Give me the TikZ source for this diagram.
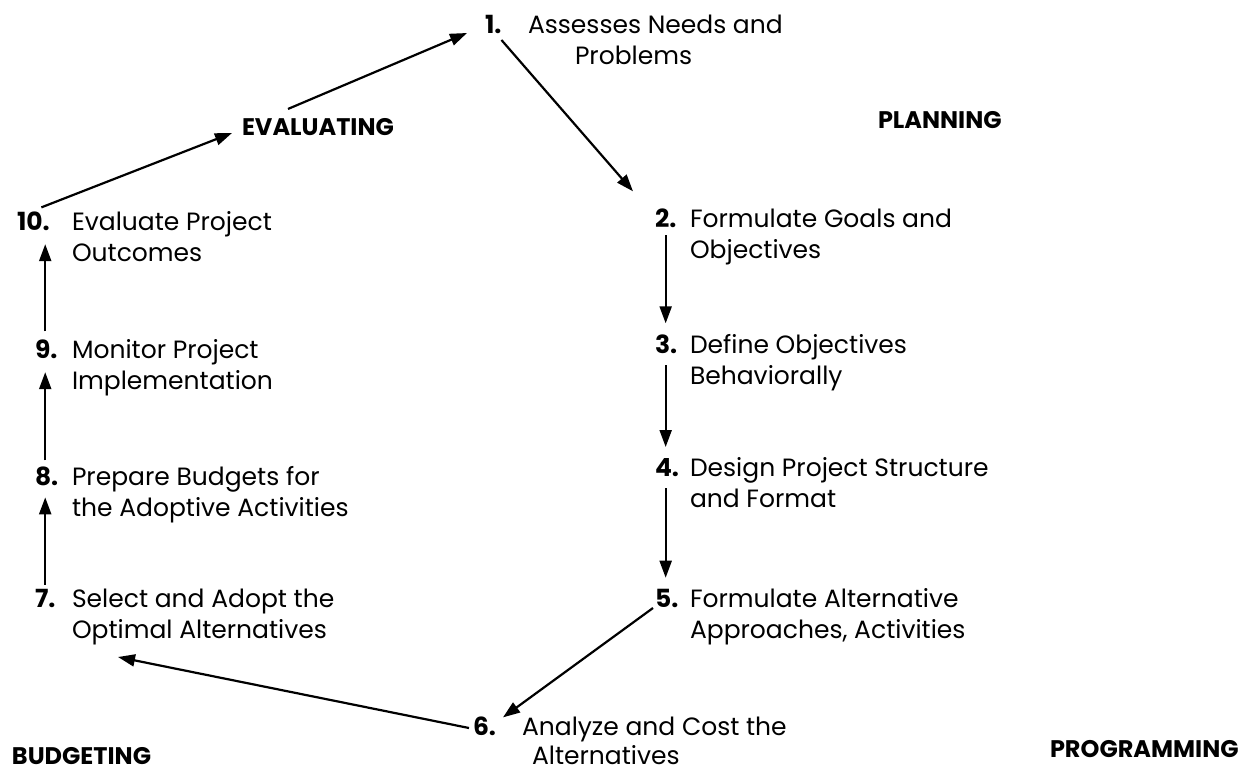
\documentclass[tikz,border=0pt]{standalone}
\usepackage{fontspec}
\setmainfont{Poppins}
\usetikzlibrary{arrows.meta,calc}
% two-line step text; baseline = first line, optional indent of the second line
\newcommand\steplines[3][0pt]{\vtop{\hbox{#2}\hbox{\hskip#1#3}}}

\begin{document}
\begin{tikzpicture}[x=1pt,y=-1pt,
  every node/.style={inner sep=0pt,outer sep=0pt},
  num/.style={anchor=base west,font=\fontsize{25}{31.5}\selectfont\bfseries},
  txt/.style={anchor=base west,font=\fontsize{25}{31.5}\selectfont},
  phase/.style={anchor=base west,font=\fontsize{24}{28}\selectfont\bfseries},
  flow/.style={line width=2.2pt,-{Triangle[length=17pt,width=12pt]}},
]
\useasboundingbox (0,0) rectangle (1253,771);

% phase labels
\node[phase] (ev)   at (242,135) {EVALUATING};
\node[phase] (plan) at (878,128) {PLANNING};
\node[phase] (bud)  at (12,764)  {BUDGETING};
\node[phase] (prog) at (1050,757) {PROGRAMMING};

% steps: number and text
\node[num] (n1) at (485,33) {1.};
\node[txt] (t1) at (528,33) {\steplines[47pt]{Assesses Needs and}{Problems}};
\node[num] (n2) at (655,227) {2.};
\node[txt] (t2) at (690,227) {\steplines{Formulate Goals and}{Objectives}};
\node[num] (n3) at (655,353) {3.};
\node[txt] (t3) at (690,353) {\steplines{Define Objectives}{Behaviorally}};
\node[num] (n4) at (655,476) {4.};
\node[txt] (t4) at (690,476) {\steplines{Design Project Structure}{and Format}};
\node[num] (n5) at (655,607) {5.};
\node[txt] (t5) at (690,607) {\steplines{Formulate Alternative}{Approaches, Activities}};
\node[num] (n6) at (473,735) {6.};
\node[txt,font=\fontsize{25}{29}\selectfont] (t6) at (522,735)
  {\steplines[10pt]{Analyze and Cost the}{Alternatives}};
\node[num] (n7) at (35,607) {7.};
\node[txt] (t7) at (72,607) {\steplines{Select and Adopt the}{Optimal Alternatives}};
\node[num] (n8) at (35,485) {8.};
\node[txt] (t8) at (72,485) {\steplines{Prepare Budgets for}{the Adoptive Activities}};
\node[num] (n9) at (35,358) {9.};
\node[txt] (t9) at (72,358) {\steplines{Monitor Project}{Implementation}};
\node[num] (n10) at (17,230) {10.};
\node[txt] (t10) at (72,230) {\steplines{Evaluate Project}{Outcomes}};

% cycle connectors
\draw[flow] ($(n10.north)+(8,-4)$) -- ($(ev.base west)+(-10,-2)$);
\draw[flow] ($(ev.north west)+(46,-9)$) -- ($(n1.base west)+(-18,0)$);
\draw[flow] ($(n1.base east)+(0,7)$) -- ($(n2.north west)+(-22,-17)$);
% planning column, straight down
\draw[flow] ($(n2.south)+(0,8)$) -- ($(n2.south |- n3.north)+(0,-11)$);
\draw[flow] ($(n2.south |- n3.south)+(0,12)$) -- ($(n2.south |- n4.north)+(0,-11)$);
\draw[flow] ($(n2.south |- n4.south)+(0,12)$) -- ($(n2.south |- n5.north)+(0,-11)$);
% programming and budgeting
\draw[flow] ($(n5.base west)+(-2,1)$) -- ($(n6.north east)+(7,1)$);
\draw[flow] ($(n6.base west)+(-4,-7)$) -- ($(t7.south west)+(46,12)$);
% budgeting column, straight up
\draw[flow] ($(n7.north)+(0,-4)$) -- ($(n7.north |- n8.south)+(0,12)$);
\draw[flow] ($(n7.north |- n8.north)+(0,-6)$) -- ($(n7.north |- n9.south)+(0,14)$);
\draw[flow] ($(n7.north |- n9.north)+(0,-8)$) -- ($(n7.north |- n10.south)+(0,14)$);
\end{tikzpicture}
\end{document}
